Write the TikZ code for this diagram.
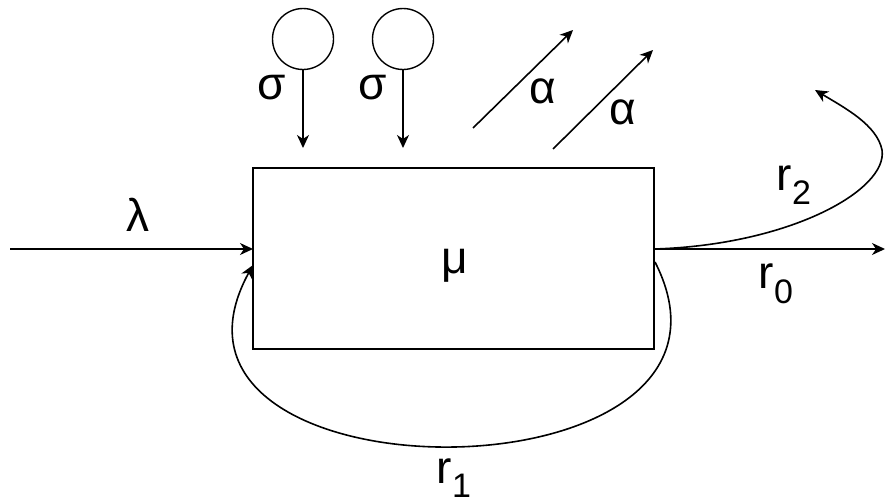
\documentclass[tikz,border=0pt]{standalone}
\usepackage{fontspec}
\setmainfont{Liberation Sans}
\usepackage{tikz}
\usetikzlibrary{arrows.meta,positioning,calc}
\newcommand{\rsub}[1]{r\raisebox{-0.32em}{\fontsize{17}{20}\selectfont #1}}
\tikzset{
  procbox/.style={draw=black,fill=white,line width=0.8pt,
                  minimum width=200.5pt,minimum height=90.5pt,inner sep=0pt},
  srccircle/.style={draw=black,circle,line width=0.7pt,
                    minimum size=30.5pt,inner sep=0pt},
  flowarr/.style={-{Stealth[length=6.5pt,width=6pt,inset=2pt]},line width=0.8pt},
  lbl/.style={font=\fontsize{23}{27}\selectfont,inner sep=0pt}
}

\begin{document}
\begin{tikzpicture}[x=0.5pt,y=-0.5pt]
  \useasboundingbox (0,0) rectangle (886,503);

  % server
  \node[procbox] (box) at (453.5,258.5) {};
  \node[lbl] (mu) at (455,266) {μ};

  % arrivals
  \coordinate (inL) at (10,249);
  \coordinate (boxin) at (253,249);
  \draw[flowarr] (inL) -- (boxin);
  \node[lbl] (lam) at (138,215) {λ};

  % sources with their rates
  \node[srccircle] (s1) at (303,39) {};
  \node[srccircle] (s2) at (403,39) {};
  \coordinate (s1end) at (303,148);
  \coordinate (s2end) at (403,148);
  \draw[flowarr,line width=0.7pt] (s1.south) -- (s1end);
  \draw[flowarr,line width=0.7pt] (s2.south) -- (s2end);
  \node[lbl] (sig1) at (272,88) {σ};
  \node[lbl] (sig2) at (373,88) {σ};

  % abandonments
  \coordinate (a1s) at (473,128);
  \coordinate (a1e) at (573,30);
  \coordinate (a2s) at (553,149);
  \coordinate (a2e) at (653,50);
  \draw[flowarr] (a1s) -- (a1e);
  \draw[flowarr] (a2s) -- (a2e);
  \node[lbl] (alp1) at (543,91) {α};
  \node[lbl] (alp2) at (623,112) {α};

  % departures
  \coordinate (outpt) at (654,249);
  \coordinate (outR) at (885,249);
  \draw[flowarr] (outpt) -- (outR);
  \node[lbl] (rz) at (776,284) {\rsub{0}};

  % r2 turns back up
  \coordinate (r2end) at (815,90);
  \draw[flowarr] (outpt) .. controls (790,245) and (888,190) .. (882,150)
    .. controls (877,125) and (845,108) .. (r2end);
  \node[lbl] (rtwo) at (794,185) {\rsub{2}};

  % feedback r1
  \coordinate (r1start) at (655,262);
  \coordinate (r1end) at (253,265);
  \draw[flowarr] (r1start) .. controls (780,507) and (120,507) .. (r1end);
  \node[lbl] (rone) at (454,478) {\rsub{1}};
\end{tikzpicture}
\end{document}
